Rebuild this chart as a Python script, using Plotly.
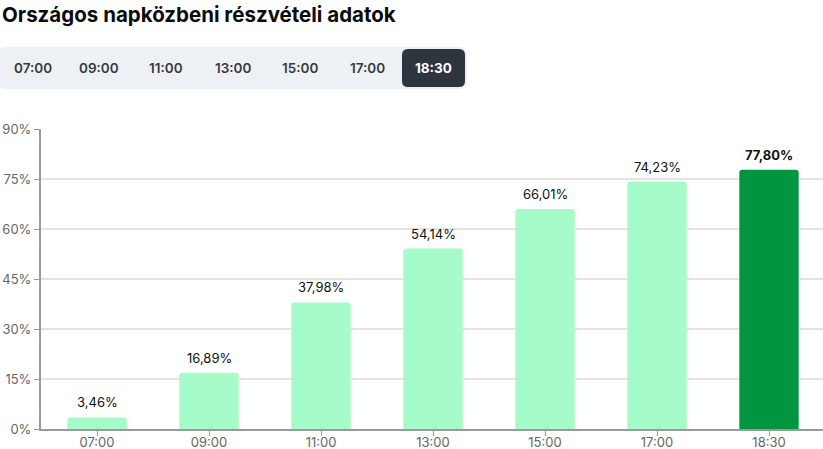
import plotly.graph_objects as go

# ---- data ----
categories = ["07:00", "09:00", "11:00", "13:00", "15:00", "17:00", "18:30"]
turnout = [3.46, 16.89, 37.98, 54.14, 66.01, 74.23, 77.80]
y_ticks = [0, 15, 30, 45, 60, 75, 90]
title_text = "Országos napközbeni részvételi adatok"
active_index = 6

# ---- layout constants ----
W, H = 823, 449
ML, MR, MT, MB = 41, 0, 129, 20
PW = W - ML - MR
PH = H - MT - MB
BAND = 112.0
FONT = "Inter, Noto Sans, sans-serif"
LIGHT = "#a6fcc9"
DARK = "#00963f"


def px(x):
    return (x - ML) / PW


def py(y):
    return (H - MB - y) / PH


def rrect(x0, y0, x1, y1, r):
    # rounded rectangle path in paper coordinates (pixel inputs)
    X = lambda v: px(v)
    Y = lambda v: py(v)
    return (
        f"M {X(x0 + r)} {Y(y0)} L {X(x1 - r)} {Y(y0)} Q {X(x1)} {Y(y0)} {X(x1)} {Y(y0 + r)} "
        f"L {X(x1)} {Y(y1 - r)} Q {X(x1)} {Y(y1)} {X(x1 - r)} {Y(y1)} "
        f"L {X(x0 + r)} {Y(y1)} Q {X(x0)} {Y(y1)} {X(x0)} {Y(y1 - r)} "
        f"L {X(x0)} {Y(y0 + r)} Q {X(x0)} {Y(y0)} {X(x0 + r)} {Y(y0)} Z"
    )


colors = [DARK if i == active_index else LIGHT for i in range(len(categories))]
labels = [f"{v:.2f}".replace(".", ",") + "%" for v in turnout]

fig = go.Figure()
fig.add_trace(go.Bar(
    x=categories, y=turnout,
    marker=dict(color=colors, cornerradius=3, line=dict(width=0)),
    width=0.53,
    hoverinfo="skip",
))

annotations = []
for i, (c, v, t) in enumerate(zip(categories, turnout, labels)):
    annotations.append(dict(
        x=c, y=v, xref="x", yref="y", text=t,
        showarrow=False, yanchor="bottom", yshift=5,
        font=dict(family=FONT, size=13, color="#111111",
                  weight=700 if i == active_index else 400),
    ))

shapes = [
    dict(type="path", xref="paper", yref="paper", path=rrect(-2, 47, 467, 89, 8),
         fillcolor="#eef1f4", line=dict(width=0), layer="below"),
    dict(type="path", xref="paper", yref="paper", path=rrect(402, 49, 465, 87, 6),
         fillcolor="#2e353f", line=dict(width=0), layer="above"),
]

for i, c in enumerate(categories):
    cx = 32.5 + i * 66.9
    active = i == active_index
    annotations.append(dict(
        x=px(cx), y=py(68), xref="paper", yref="paper",
        text=c, showarrow=False, xanchor="center", yanchor="middle",
        font=dict(family=FONT, size=13.5, weight=700 if active else 600,
                  color="#ffffff" if active else "#353a42"),
    ))

annotations.append(dict(
    x=px(0), y=py(0), xref="paper", yref="paper", text=title_text,
    showarrow=False, xanchor="left", yanchor="top",
    font=dict(family=FONT, size=20.5, weight=700, color="#0b0b0b"),
))

fig.update_layout(
    width=W, height=H,
    margin=dict(l=ML, r=MR, t=MT, b=MB, pad=0, autoexpand=False),
    paper_bgcolor="#ffffff", plot_bgcolor="#ffffff",
    showlegend=False,
    font=dict(family=FONT, size=13, color="#666666"),
    xaxis=dict(
        type="category", range=[-0.5, -0.5 + PW / BAND], automargin=False,
        showgrid=False, showline=True, linecolor="#9a9a9a", linewidth=1.5,
        ticks="outside", ticklen=5, tickcolor="#9a9a9a", tickwidth=1,
        ticklabelstandoff=-4,
        tickfont=dict(family=FONT, size=13, color="#666666"),
        fixedrange=True,
    ),
    yaxis=dict(
        range=[0, 90], tickmode="array", tickvals=y_ticks, automargin=False,
        ticktext=[f"{v}%" for v in y_ticks],
        showgrid=True, gridcolor="#e3e3e3", gridwidth=1.5,
        showline=True, linecolor="#9a9a9a", linewidth=2,
        ticks="outside", ticklen=5, tickcolor="#9a9a9a", tickwidth=1,
        tickfont=dict(family=FONT, size=13, color="#666666"),
        zeroline=False, fixedrange=True,
    ),
    shapes=shapes,
    annotations=annotations,
)

fig.write_html(
    "out.html",
    config={"displayModeBar": False},
    post_script="document.body.style.margin='0';document.body.style.overflow='hidden';",
)
